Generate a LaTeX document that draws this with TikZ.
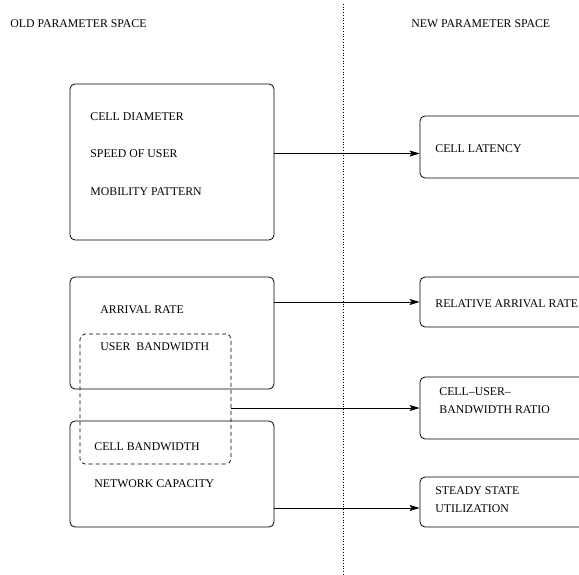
\documentclass[tikz,border=0pt]{standalone}
\usepackage{fontspec}
\setmainfont{Liberation Serif}
\usetikzlibrary{arrows,arrows.meta,positioning,calc}

\begin{document}
\begin{tikzpicture}[x=1pt,y=-1pt,>={Stealth[length=10pt,width=6pt,inset=2pt]},line join=bevel,line width=.8pt,
  box/.style={draw,rounded corners=5pt,inner sep=0pt},
  txt/.style={anchor=west,inner sep=0pt,align=left,font=\fontsize{11.8}{18}\selectfont}]
\clip (0,0) rectangle (579,574);
\node [txt] at (10,24) (old) {OLD PARAMETER SPACE};
\node [txt] at (411,24) (new) {NEW PARAMETER SPACE};
\draw [dotted,line width=.7pt] (343,4) -- (343,574);
% old parameter space
\node [box,minimum width=204pt,minimum height=156pt] at (172,162) (old1) {};
\node [box,minimum width=204pt,minimum height=112pt] at (172,333) (old2) {};
\node [box,minimum width=204pt,minimum height=106pt] at (172,474) (old3) {};
\node [box,dash pattern=on 4pt off 3pt,line width=.7pt,minimum width=151pt,minimum height=130pt] at (155.5,399) (band) {};
\node [txt] at (90,117) (diam) {CELL DIAMETER};
\node [txt] at ([yshift=-37pt]diam.west) (speed) {SPEED OF USER};
\node [txt] at ([yshift=-38pt]speed.west) (mob) {MOBILITY PATTERN};
\node [txt] at (100,310) (arr) {ARRIVAL RATE};
\node [txt] at ([yshift=-37pt]arr.west) (ubw) {USER\ \ BANDWIDTH};
\node [txt] at (94,447) (cbw) {CELL BANDWIDTH};
\node [txt] at ([yshift=-37pt]cbw.west) (cap) {NETWORK CAPACITY};
% new parameter space
\node [box,minimum width=180pt,minimum height=62pt] at (510,147) (new1) {};
\node [box,minimum width=180pt,minimum height=50pt] at (510,302) (new2) {};
\node [box,minimum width=180pt,minimum height=62pt] at (510,408) (new3) {};
\node [box,minimum width=180pt,minimum height=50pt] at (510,502) (new4) {};
\node [txt] at (435,149) (lat) {CELL LATENCY};
\node [txt] at (435,304) (rel) {RELATIVE ARRIVAL RATE};
\node [txt] at (439,401) (ratio) {CELL--USER--\\BANDWIDTH RATIO};
\node [txt] at (435,500) (util) {STEADY STATE\\UTILIZATION};
\draw [->] ([yshift=-6.5pt]new1.west -| old1.east) -- ([yshift=-6.5pt]new1.west);
\draw [->] (new2.west -| old2.east) -- (new2.west);
\draw [->] (new3.west -| band.east) -- (new3.west);
\draw [->] ([yshift=-6pt]new4.west -| old3.east) -- ([yshift=-6pt]new4.west);

\end{tikzpicture}
\end{document}
